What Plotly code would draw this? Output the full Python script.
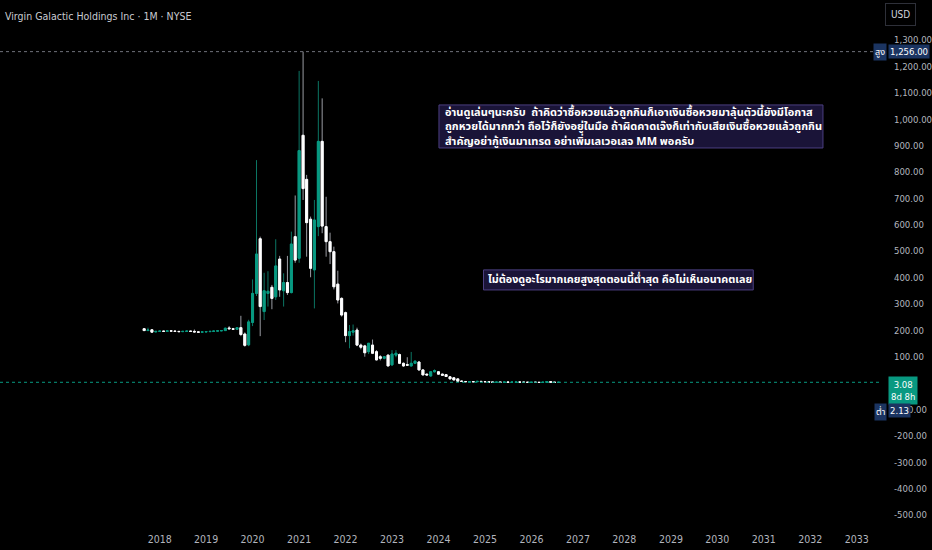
import pandas as pd
import plotly.graph_objects as go

# monthly bars, Sep 2017 .. Aug 2026 (split-adjusted prices)
months = pd.date_range("2017-09-01", "2026-08-01", freq="MS")

opens = [206, 199, 202, 194,
         196, 197, 196, 198, 197, 196, 195, 196, 197, 196, 194, 193,
         194, 195, 196, 197, 198, 199, 209, 206, 204, 210, 186, 145,
         230, 340, 547, 271, 340, 363, 327, 470, 350, 381, 343, 555,
         473, 939, 772, 621, 429, 593, 916, 593, 536, 498, 375, 321,
         267, 180, 193, 201, 144, 141, 119, 144, 119, 100, 94, 106,
         69, 106, 108, 75, 70, 65, 75, 80, 50, 34, 27, 43,
         43, 34, 32, 24, 20, 16, 8.0, 6.2, 5.3, 5.9, 5.1, 6.6,
         5.8, 5.2, 4.1, 3.3, 3.6, 3.3, 3.8, 3.2, 3.6, 4.0, 3.6, 3.1,
         2.8, 3.1, 2.9, 2.5, 3.2, 5.4, 3.6, 2.6]
highs = [208, 210, 203, 197,
         198, 198, 199, 199, 198, 197, 197, 198, 198, 203, 195, 195,
         196, 197, 198, 199, 200, 210, 216, 209, 212, 255, 192, 240,
         393, 845, 555, 418, 424, 372, 545, 482, 416, 482, 574, 711,
         1183, 1256, 789, 631, 694, 1145, 1079, 706, 570, 517, 426, 325,
         271, 220, 222, 210, 150, 145, 152, 165, 125, 106, 102, 108,
         125, 125, 112, 78, 98, 118, 86, 82, 52, 36, 45, 52,
         45, 36, 34, 26, 22, 18, 9.4, 6.8, 6.4, 6.2, 7.2, 7.3,
         6.4, 5.6, 4.3, 4.0, 3.9, 4.1, 4.0, 3.9, 4.4, 4.9, 3.8, 3.3,
         3.4, 3.3, 3.1, 3.6, 6.8, 6.1, 3.9, 3.3]
lows = [198, 198, 192, 193,
        195, 195, 195, 196, 195, 194, 194, 195, 195, 193, 192, 191,
        193, 194, 195, 196, 197, 198, 203, 202, 202, 178, 138, 140,
        216, 330, 178, 239, 290, 280, 315, 327, 290, 334, 340, 456,
        456, 694, 479, 401, 283, 557, 568, 479, 451, 355, 302, 252,
        155, 132, 180, 140, 128, 100, 110, 110, 86, 86, 90, 65,
        66, 98, 72, 62, 66, 63, 72, 48, 30, 29, 25, 40,
        33, 28, 24, 15, 10, 6, 5.9, 4.9, 4.6, 4.9, 4.8, 5.5,
        4.9, 3.8, 3.0, 2.9, 3.1, 3.0, 3.0, 2.9, 3.3, 3.4, 2.9, 2.6,
        2.5, 2.6, 2.3, 2.4, 3.0, 3.3, 2.13, 2.4]
closes = [199, 201, 193, 196,
          197, 196, 198, 197, 196, 195, 196, 197, 196, 194, 193, 194,
          195, 196, 197, 198, 199, 208, 206, 204, 210, 184, 143, 232,
          340, 489, 290, 350, 348, 321, 444, 353, 381, 343, 527, 466,
          881, 737, 608, 435, 618, 916, 595, 536, 498, 365, 315, 258,
          180, 195, 198, 144, 136, 115, 151, 113, 88, 94, 100, 65,
          110, 113, 75, 65, 68, 75, 83, 50, 31, 31, 43, 47,
          34, 30, 25, 16, 12, 7, 6.2, 5.3, 5.9, 5.1, 6.6, 5.8,
          5.2, 4.1, 3.3, 3.6, 3.3, 3.8, 3.2, 3.6, 4.0, 3.6, 3.1, 2.8,
          3.1, 2.9, 2.5, 3.2, 5.4, 3.6, 2.6, 3.08]

price_ticks = list(range(-500, 1301, 100))
year_ticks = [f"{y}-01-01" for y in range(2018, 2034)]
all_high = max(highs)
all_low = min(lows)
last_close = closes[-1]

title = "Virgin Galactic Holdings Inc · 1M · NYSE"
note1 = ("อ่านดูเล่นๆนะครับ  ถ้าคิดว่าซื้อหวยแล้วถูกกินก็เอาเงินซื้อหวยมาลุ้นตัวนี้ยังมีโอกาส<br>"
         "ถูกหวยได้มากกว่า ถือไว้ก็ยังอยู่ในมือ ถ้าผิดคาดเจ๊งก็เท่ากับเสียเงินซื้อหวยแล้วถูกกิน<br>"
         "สำคัญอย่ากู้เงินมาเทรด อย่าเพิ่มเลเวอเลจ MM พอครับ")
note2 = "ไม่ต้องดูอะไรมากเคยสูงสุดตอนนี้ต่ำสุด คือไม่เห็นอนาคตเลย"

UP = "#089981"
UP_WICK = "#0b7563"
DN = "#ffffff"
DN_WICK = "#9a9ca3"
AXIS_TXT = "#b2b5be"
NAVY = "#1b3461"
NOTE_BG = "#1a1438"
NOTE_EDGE = "#4b3f80"
FONT = "Liberation Sans Narrow, DejaVu Sans Condensed, sans-serif"
THAI = "Noto Sans Thai, Noto Sans, sans-serif"

body_hi = [max(o, c) for o, c in zip(opens, closes)]
body_lo = [min(o, c) for o, c in zip(opens, closes)]

fig = go.Figure()
# wicks
fig.add_trace(go.Candlestick(
    x=months, open=opens, high=highs, low=lows, close=closes,
    increasing=dict(line=dict(color=UP_WICK, width=1), fillcolor=UP_WICK),
    decreasing=dict(line=dict(color=DN_WICK, width=1), fillcolor=DN_WICK),
    hoverinfo="skip", showlegend=False))
# bodies
fig.add_trace(go.Candlestick(
    x=months, open=opens, high=body_hi, low=body_lo, close=closes,
    increasing=dict(line=dict(color=UP, width=1), fillcolor=UP),
    decreasing=dict(line=dict(color=DN, width=1), fillcolor=DN),
    hoverinfo="skip", showlegend=False))

# high line and current price line
fig.add_hline(y=all_high, line=dict(color="#6f727b", width=1, dash="dot"))
fig.add_hline(y=last_close, line=dict(color=UP, width=1, dash="dot"))

# text-note boxes (drawing objects on the chart)
fig.add_shape(type="rect", x0="2024-01-05", x1="2032-04-10", y0=891, y1=1054,
              fillcolor=NOTE_BG, line=dict(color=NOTE_EDGE, width=1), layer="above")
fig.add_shape(type="rect", x0="2024-12-20", x1="2030-10-10", y0=353, y1=429,
              fillcolor=NOTE_BG, line=dict(color=NOTE_EDGE, width=1), layer="above")

fig.update_layout(
    width=932, height=550,
    margin=dict(l=0, r=42, t=0, b=25),
    paper_bgcolor="#000000", plot_bgcolor="#000000",
    showlegend=False, boxgap=0.2,
    font=dict(family=FONT, color=AXIS_TXT, size=10),
    xaxis=dict(type="date", range=["2014-07-26", "2033-07-18"],
               tickvals=year_ticks, tickformat="%Y",
               showgrid=False, zeroline=False, showline=False, ticks="",
               ticklabelstandoff=6,
               rangeslider=dict(visible=False),
               tickfont=dict(size=10.5, color=AXIS_TXT)),
    yaxis=dict(side="right", range=[-537.7, 1451.7],
               tickvals=price_ticks,
               ticktext=[f"{v:,.2f}" for v in price_ticks],
               showgrid=False, zeroline=False, showline=False, ticks="",
               ticklabelstandoff=11,
               tickfont=dict(size=9.5, color=AXIS_TXT)),
)

ann = []
ann.append(dict(text=title, xref="paper", yref="paper", x=0, y=1,
                xanchor="left", yanchor="top", xshift=3, yshift=-8,
                showarrow=False, font=dict(size=10.5, color="#c9cbd1")))
ann.append(dict(text="USD", xref="paper", yref="paper", x=1, y=1,
                xanchor="left", yanchor="top", xshift=3, yshift=-3,
                showarrow=False, bgcolor="#000000", bordercolor="#2e3039",
                borderwidth=1, borderpad=5, font=dict(size=10, color="#d1d4dc")))
ann.append(dict(text="<b>" + note1.replace("<br>", "</b><br><b>") + "</b>",
                x="2024-02-05", y=972, xanchor="left", yanchor="middle",
                align="left", showarrow=False,
                font=dict(family=THAI, size=11, color="#ffffff")))
ann.append(dict(text="<b>" + note2 + "</b>", x="2025-01-10", y=391,
                xanchor="left", yanchor="middle",
                align="left", showarrow=False,
                font=dict(family=THAI, size=10.8, color="#ffffff")))

# price scale labels
ann.append(dict(text=f"{all_high:,.2f}", xref="paper", x=1, y=all_high,
                xanchor="left", yanchor="middle", xshift=6, showarrow=False,
                bgcolor=NAVY, borderpad=1, font=dict(size=9.5, color="#ffffff")))
ann.append(dict(text="สูง", xref="paper", x=1, y=all_high,
                xanchor="right", yanchor="middle", xshift=5, showarrow=False,
                bgcolor=NAVY, borderpad=1, font=dict(family=THAI, size=9, color="#ffffff")))
ann.append(dict(text=f"{last_close:.2f}<br>8d 8h", xref="paper", x=1, y=last_close,
                xanchor="left", yanchor="top", xshift=6, yshift=6, showarrow=False,
                bgcolor=UP, borderpad=2, font=dict(size=9.5, color="#ffffff")))
ann.append(dict(text=f"{all_low:.2f}", xref="paper", x=1, y=all_low,
                xanchor="left", yanchor="top", xshift=6, yshift=-20, showarrow=False,
                bgcolor=NAVY, borderpad=1, font=dict(size=9.5, color="#ffffff")))
ann.append(dict(text="ต่ำ", xref="paper", x=1, y=all_low,
                xanchor="right", yanchor="top", xshift=5, yshift=-20, showarrow=False,
                bgcolor=NAVY, borderpad=1, font=dict(family=THAI, size=9, color="#ffffff")))
fig.update_layout(annotations=ann)

fig.write_html("out.html", config={"displayModeBar": False},
               post_script="document.body.style.margin='0';"
                           "document.body.style.background='#000000';")
